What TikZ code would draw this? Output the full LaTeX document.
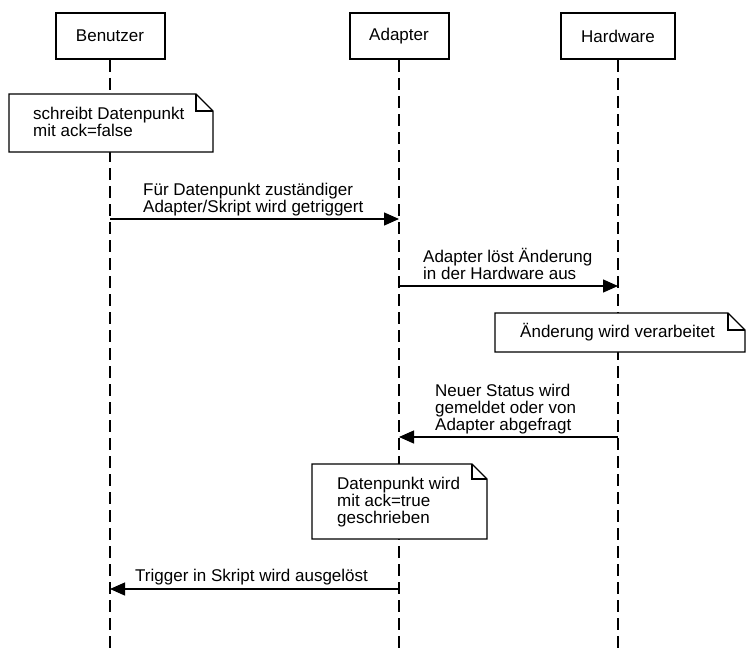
\documentclass[tikz,border=0pt]{standalone}
\usepackage{fontspec}
\setmainfont{Liberation Sans}
\usetikzlibrary{arrows.meta}
\newcommand\diafont{\fontsize{17}{17}\selectfont}
\begin{document}
\begin{tikzpicture}[x=1pt,y=-1pt,
  actor/.style={draw, line width=2pt, minimum height=46pt, inner sep=0pt, font=\diafont},
  life/.style={line width=1.3pt, dash pattern=on 12pt off 6pt},
  msg/.style={line width=1.3pt, -{Triangle[length=15pt,width=13pt]}},
  lbl/.style={anchor=base west, align=left, inner sep=0pt, font=\diafont},
  notebox/.style={line width=1.3pt, fill=white, line join=miter}
]
\useasboundingbox (0,0) rectangle (751,650);

% actors
\node[actor, minimum width=109pt] (ben) at (110,36) {Benutzer};
\node[actor, minimum width=99pt] (ada) at (399,36) {Adapter};
\node[actor, minimum width=114pt] (hw) at (618,36) {Hardware};

% lifeline ends
\coordinate (benEnd) at (110,650);
\coordinate (adaEnd) at (399,650);
\coordinate (hwEnd) at (618,650);
\draw[life] (ben.south) -- (benEnd);
\draw[life] (ada.south) -- (adaEnd);
\draw[life] (hw.south) -- (hwEnd);

% note 1
\draw[notebox] (9,94) -- (196,94) -- (213,111) -- (213,152) -- (9,152) -- cycle;
\draw[line width=1.3pt] (196,94) -- (196,111) -- (213,111);
\node[lbl] (n1t) at (33,136) {schreibt Datenpunkt\\mit ack=false};

% message 1
\coordinate (m1s) at (110,219);
\coordinate (m1e) at (399,219);
\draw[msg] (m1s) -- (m1e);
\node[lbl] (t1) at (143,212) {Für Datenpunkt zuständiger\\Adapter/Skript wird getriggert};

% message 2
\coordinate (m2s) at (399,286);
\coordinate (m2e) at (618,286);
\draw[msg] (m2s) -- (m2e);
\node[lbl] (t2) at (423,279) {Adapter löst Änderung\\in der Hardware aus};

% note 2
\draw[notebox] (495,313) -- (728,313) -- (745,330) -- (745,352) -- (495,352) -- cycle;
\draw[line width=1.3pt] (728,313) -- (728,330) -- (745,330);
\node[lbl] (n2t) at (520,337) {Änderung wird verarbeitet};

% message 3
\coordinate (m3s) at (618,437);
\coordinate (m3e) at (399,437);
\draw[msg] (m3s) -- (m3e);
\node[lbl] (t3) at (435,430) {Neuer Status wird\\gemeldet oder von\\Adapter abgefragt};

% note 3
\draw[notebox] (312,464) -- (472,464) -- (487,479) -- (487,539) -- (312,539) -- cycle;
\draw[line width=1.3pt] (472,464) -- (472,479) -- (487,479);
\node[lbl] (n3t) at (337,523) {Datenpunkt wird\\mit ack=true\\geschrieben};

% message 4
\coordinate (m4s) at (399,589);
\coordinate (m4e) at (110,589);
\draw[msg] (m4s) -- (m4e);
\node[lbl] (t4) at (135,581) {Trigger in Skript wird ausgelöst};
\end{tikzpicture}
\end{document}
